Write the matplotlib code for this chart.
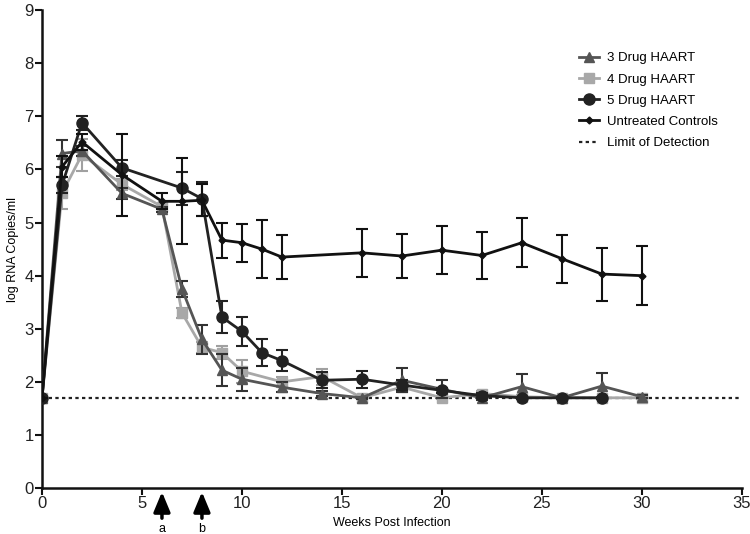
import matplotlib
matplotlib.use("Agg")
import matplotlib.pyplot as plt
from matplotlib.lines import Line2D

plt.rcParams['font.family'] = ['Liberation Sans', 'DejaVu Sans']

# ---- data ----
weeks3 = [0, 1, 2, 4, 6, 7, 8, 9, 10, 12, 14, 16, 18, 20, 22, 24, 26, 28, 30]
drug3 = [1.7, 6.3, 6.35, 5.55, 5.25, 3.75, 2.8, 2.22, 2.05, 1.9, 1.78, 1.7, 2.03, 1.86, 1.7, 1.91, 1.7, 1.92, 1.72]
err3 = [0, 0.25, 0.1, 0.1, 0.05, 0.15, 0.28, 0.3, 0.22, 0.1, 0.05, 0.02, 0.23, 0.17, 0.05, 0.23, 0.02, 0.24, 0.03]

weeks4 = [0, 1, 2, 4, 6, 7, 8, 9, 10, 12, 14, 16, 18, 20, 22, 24, 26, 28, 30]
drug4 = [1.7, 5.55, 6.28, 5.72, 5.3, 3.3, 2.65, 2.55, 2.2, 2.0, 2.1, 1.7, 1.9, 1.7, 1.78, 1.72, 1.7, 1.7, 1.7]
err4 = [0, 0.3, 0.3, 0.1, 0.05, 0.1, 0.1, 0.12, 0.22, 0.1, 0.15, 0.02, 0.05, 0.02, 0.05, 0.03, 0.02, 0.02, 0.02]

weeks5 = [0, 1, 2, 4, 7, 8, 9, 10, 11, 12, 14, 16, 18, 20, 22, 24, 26, 28]
drug5 = [1.7, 5.7, 6.88, 6.03, 5.65, 5.45, 3.22, 2.95, 2.55, 2.4, 2.03, 2.05, 1.94, 1.84, 1.74, 1.7, 1.7, 1.7]
err5 = [0, 0.15, 0.13, 0.15, 0.31, 0.32, 0.3, 0.27, 0.26, 0.2, 0.15, 0.16, 0.1, 0.05, 0.05, 0.02, 0.02, 0.02]

weeksU = [0, 1, 2, 4, 6, 7, 8, 9, 10, 11, 12, 16, 18, 20, 22, 24, 26, 28, 30]
untreated = [1.7, 6.05, 6.52, 5.9, 5.4, 5.4, 5.42, 4.67, 4.62, 4.5, 4.35, 4.43, 4.37, 4.48, 4.38, 4.62, 4.32, 4.03, 4.0]
errU = [0, 0.2, 0.15, 0.77, 0.15, 0.81, 0.3, 0.33, 0.36, 0.54, 0.42, 0.45, 0.42, 0.45, 0.45, 0.46, 0.45, 0.5, 0.55]

lod = 1.7
arrow_weeks = [6, 8]
arrow_labels = ['a', 'b']

series = [
    (weeks3, drug3, err3, '#555555', '#333333', '^', 7, '3 Drug HAART', 3),
    (weeks4, drug4, err4, '#a8a8a8', '#a0a0a0', 's', 7, '4 Drug HAART', 2),
    (weeks5, drug5, err5, '#222222', '#222222', 'o', 8, '5 Drug HAART', 4),
    (weeksU, untreated, errU, '#111111', '#111111', 'D', 3.5, 'Untreated Controls', 5),
]

fig = plt.figure(figsize=(7.5, 5.34), dpi=100)
ax = fig.add_axes([0.056, 0.086, 0.933, 0.895])

handles = []
for x, y, e, c, ec, m, ms, lab, z in series:
    ax.errorbar(x, y, yerr=e, color=c, ecolor=ec, marker=m, ms=ms, lw=2, capsize=4,
                capthick=1.5, elinewidth=1.5, zorder=z)
    handles.append(Line2D([], [], color=c, marker=m, ms=ms, lw=2, label=lab))
ax.axhline(lod, color='#222222', ls=(0, (1.5, 1.5)), lw=1.6, zorder=1)
handles.append(Line2D([], [], color='#222222', ls=(0, (1.5, 1.5)), lw=1.6, label='Limit of Detection'))

ax.set_xlim(0, 35)
ax.set_ylim(0, 9)
ax.set_xticks(range(0, 36, 5))
ax.set_yticks(range(0, 10))
for s in ['top', 'right']:
    ax.spines[s].set_visible(False)
for s in ['left', 'bottom']:
    ax.spines[s].set_linewidth(1.8)
    ax.spines[s].set_color('#111111')
ax.tick_params(axis='both', labelsize=12, width=1.5, length=5, color='#111111', labelcolor='#222222', pad=1)

ax.set_xlabel('Weeks Post Infection', fontsize=9, va='center')
ax.set_ylabel('log RNA Copies/ml', fontsize=9, va='center')
ax.xaxis.set_label_coords(0.5, -0.073)
ax.yaxis.set_label_coords(-0.042, 0.5)

for w, lab in zip(arrow_weeks, arrow_labels):
    ax.annotate('', xy=(w, -0.008), xytext=(w, -0.063), xycoords=('data', 'axes fraction'),
                arrowprops=dict(arrowstyle='-|>,head_width=0.25,head_length=0.6', mutation_scale=20,
                                color='black', lw=2.5, shrinkA=0, shrinkB=0))
    ax.text(w, -0.085, lab, transform=ax.get_xaxis_transform(), ha='center', va='center', fontsize=9)

ax.legend(handles=handles, loc='upper left', bbox_to_anchor=(0.751, 0.937), frameon=False, fontsize=9.5,
          handlelength=1.5, labelspacing=0.68, handletextpad=0.6)

fig.savefig('out.png', dpi=100)
